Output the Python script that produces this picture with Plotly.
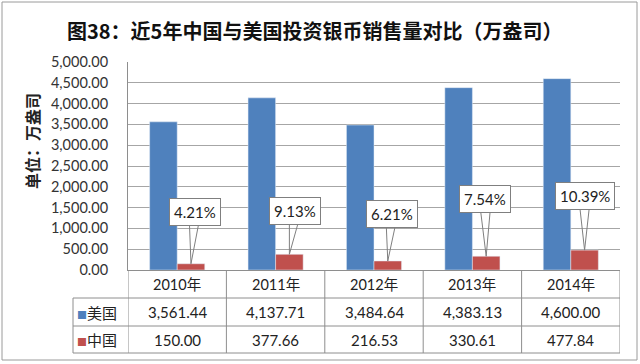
import plotly.graph_objects as go

years = ["2010年", "2011年", "2012年", "2013年", "2014年"]
usa = [3561.44, 4137.71, 3484.64, 4383.13, 4600.00]
china = [150.00, 377.66, 216.53, 330.61, 477.84]
ratio_labels = ["4.21%", "9.13%", "6.21%", "7.54%", "10.39%"]
y_ticks = [0, 500, 1000, 1500, 2000, 2500, 3000, 3500, 4000, 4500, 5000]

BLUE = "#4F81BD"
RED = "#C0504D"
GRID = "#a6a6a6"
LINE = "#8e8e8e"
FONT = "Lato, Noto Sans CJK SC, sans-serif"
CJK = "Noto Sans CJK SC, sans-serif"

# figure geometry (pixels)
W, H = 640, 364
L, R, T, B = 128, 20, 62, 94
PW, PH = W - L - R, H - T - B

def px_x(x):
    return (x - L) / PW

def px_y(y):
    return (H - B - y) / PH

fig = go.Figure()
fig.add_trace(go.Bar(x=list(range(len(years))), y=usa, name="美国", marker_color=BLUE))
fig.add_trace(go.Bar(x=list(range(len(years))), y=china, name="中国", marker_color=RED))

bargap = 0.44
red_shift = (1 - bargap) / 4
callout_ax = [4, 6, 4, -1, 0]
callout_ay = [-52, -43, -47, -57, -54]
wedge_half = 6

annotations = []
# callout wedges (drawn first, box covers their upper part)
for i, v in enumerate(china):
    for d in (-wedge_half, wedge_half):
        annotations.append(dict(
            x=i + red_shift, y=v, xref="x", yref="y", text=" ",
            showarrow=True, arrowhead=0, arrowwidth=1, arrowcolor="#7f7f7f",
            ax=callout_ax[i] + d, ay=callout_ay[i],
            font=dict(size=1),
        ))
for i, (v, lab) in enumerate(zip(china, ratio_labels)):
    annotations.append(dict(
        x=i + red_shift, y=v, xref="x", yref="y", text=lab,
        showarrow=True, arrowhead=0, arrowwidth=1, arrowcolor="rgba(0,0,0,0)",
        ax=callout_ax[i], ay=callout_ay[i],
        bgcolor="white", bordercolor="#7f7f7f", borderwidth=1, borderpad=4,
        font=dict(family=FONT, size=15, color="#222"),
    ))

# title
annotations.append(dict(
    x=px_x(314), y=px_y(30), xref="paper", yref="paper", showarrow=False,
    xanchor="center", yanchor="middle",
    text="<b>图38：近5年中国与美国投资银币销售量对比（万盎司）</b>",
    font=dict(family=CJK, size=20, color="#111"),
))
# y axis title
annotations.append(dict(
    x=px_x(32), y=px_y(141), xref="paper", yref="paper", showarrow=False,
    xanchor="center", yanchor="middle",
    text="<b>单位：万盎司</b>", textangle=-90,
    font=dict(family=CJK, size=16, color="#222"),
))

# data table
row_centers = [284.5, 312, 339.5]
row_lines = [298, 326, 353]
for i, yr in enumerate(years):
    for txt, yc, fs in [(yr, row_centers[0], 14.5),
                        (f"{usa[i]:,.2f}", row_centers[1], 15),
                        (f"{china[i]:,.2f}", row_centers[2], 15)]:
        annotations.append(dict(x=i, y=px_y(yc), xref="x", yref="paper",
                                xanchor="center", yanchor="middle",
                                showarrow=False, text=txt,
                                font=dict(family=FONT, size=fs, color="#222")))
for name, col, yc in [("美国", BLUE, row_centers[1]), ("中国", RED, row_centers[2])]:
    annotations.append(dict(
        x=px_x(75), y=px_y(yc), xref="paper", yref="paper",
        xanchor="left", yanchor="middle",
        showarrow=False,
        text=f"<span style='color:{col};font-size:10px'>■</span>{name}",
        font=dict(family=CJK, size=15, color="#222"),
    ))

shapes = []
for yl in row_lines:
    shapes.append(dict(type="line", xref="paper", yref="paper",
                       x0=px_x(73), x1=1, y0=px_y(yl), y1=px_y(yl),
                       line=dict(color=LINE, width=1)))
shapes.append(dict(type="line", xref="paper", yref="paper",
                   x0=px_x(73), x1=px_x(73), y0=px_y(row_lines[0]), y1=px_y(row_lines[-1]),
                   line=dict(color=LINE, width=1)))
for k in range(len(years) + 1):
    shapes.append(dict(type="line", xref="x", yref="paper",
                       x0=k - 0.5, x1=k - 0.5, y0=0, y1=px_y(row_lines[-1]),
                       line=dict(color=LINE, width=1)))
# outer border
shapes.append(dict(type="rect", xref="paper", yref="paper",
                   x0=px_x(2), x1=px_x(637), y0=px_y(2), y1=px_y(360),
                   line=dict(color="#9a9a9a", width=1)))

fig.update_layout(
    width=W, height=H,
    margin=dict(l=L, r=R, t=T, b=B),
    paper_bgcolor="white", plot_bgcolor="white",
    barmode="group", bargap=bargap, bargroupgap=0,
    showlegend=False,
    annotations=annotations, shapes=shapes,
    font=dict(family=FONT, size=13, color="#222"),
)
fig.update_xaxes(range=[-0.5, len(years) - 0.5], showticklabels=False,
                 showline=True, linecolor=LINE, linewidth=1, showgrid=False,
                 zeroline=False, fixedrange=True)
fig.update_yaxes(range=[0, 5000], tickvals=y_ticks, tickformat=",.2f",
                 showgrid=True, gridcolor=GRID, gridwidth=1,
                 showline=True, linecolor=LINE, linewidth=1,
                 zeroline=False, ticks="", ticklabelstandoff=16,
                 tickfont=dict(family=FONT, size=14.5, color="#333"))

fig.write_html("out.html", config={"displayModeBar": False},
               post_script="document.body.style.margin='0';document.body.style.overflow='hidden';")
